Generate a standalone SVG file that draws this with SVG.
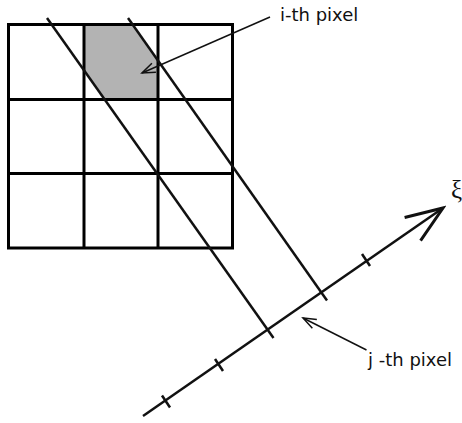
<svg xmlns="http://www.w3.org/2000/svg" width="462" height="423" viewBox="0 0 462 423">
  <style>
    .grid { fill: none; stroke: #000; stroke-width: 3; }
    .proj { fill: none; stroke: #111; stroke-width: 2.5; stroke-linecap: butt; }
    .tick { fill: none; stroke: #111; stroke-width: 2.5; }
    .leader { fill: none; stroke: #111; stroke-width: 1.5; }
    .lbl { font-family: "DejaVu Sans", sans-serif; font-size: 18px; fill: #111; }
    .xi { font-family: "Liberation Serif", serif; font-size: 25px; fill: #111; }
  </style>
  <defs>
    <marker id="bigArrow" markerUnits="userSpaceOnUse" viewBox="-40 -18 44 36" refX="0" refY="0" markerWidth="44" markerHeight="36" orient="auto">
      <path d="M -37,-14 L 0,0 L -37,14" fill="none" stroke="#111" stroke-width="3"/>
    </marker>
    <marker id="smallArrow" markerUnits="userSpaceOnUse" viewBox="-16 -8 20 16" refX="0" refY="0" markerWidth="20" markerHeight="16" orient="auto">
      <path d="M -13,-5 L 0,0 L -13,5" fill="none" stroke="#111" stroke-width="1.5"/>
    </marker>
  </defs>

  <g id="pixel-i">
    <polygon points="84,25 133,25 158,61 158,99 104,99 84,70" fill="#b3b3b3"/>
  </g>

  <g id="grid">
    <rect class="grid" x="8.5" y="24.5" width="224" height="223.5"/>
    <line class="grid" x1="84" y1="24.5" x2="84" y2="248"/>
    <line class="grid" x1="158" y1="24.5" x2="158" y2="248"/>
    <line class="grid" x1="8.5" y1="99.5" x2="232.5" y2="99.5"/>
    <line class="grid" x1="8.5" y1="173.5" x2="232.5" y2="173.5"/>
  </g>

  <g id="connectors">
    <line class="proj" x1="47" y1="18" x2="273.5" y2="338"/>
    <line class="proj" x1="128" y1="18" x2="327" y2="300.5"/>
    <line class="proj" x1="143" y1="416" x2="443" y2="208" marker-end="url(#bigArrow)"/>
    <line class="tick" x1="162" y1="395.5" x2="170" y2="407.5"/>
    <line class="tick" x1="215" y1="359" x2="223" y2="371"/>
    <line class="tick" x1="362" y1="254" x2="370" y2="266"/>
    <line class="leader" x1="270" y1="17" x2="142" y2="73" marker-end="url(#smallArrow)"/>
    <line class="leader" x1="366.5" y1="350" x2="303" y2="318" marker-end="url(#smallArrow)"/>
  </g>

  <g id="label-i">
    <text class="lbl" x="280" y="21">i-th pixel</text>
  </g>
  <g id="label-j">
    <text class="lbl" x="368" y="366">j -th pixel</text>
  </g>
  <g id="label-xi">
    <text class="xi" x="451" y="198">ξ</text>
  </g>
</svg>
